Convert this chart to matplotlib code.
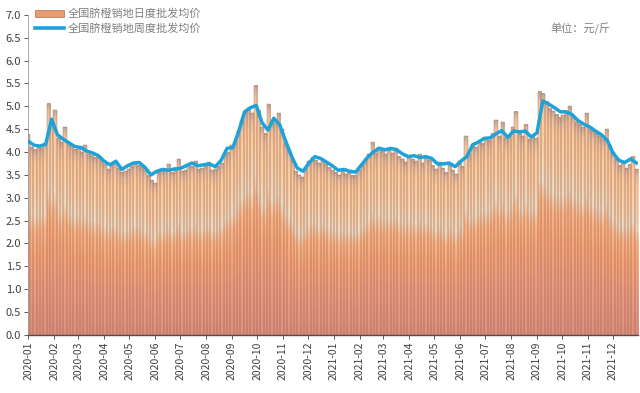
import numpy as np
import pandas as pd
import matplotlib
matplotlib.use("Agg")
import matplotlib.pyplot as plt
import matplotlib.dates as mdates
from matplotlib.colors import LinearSegmentedColormap
from matplotlib.patches import Patch
from matplotlib.lines import Line2D

plt.rcParams['font.family'] = ['Noto Sans CJK SC', 'DejaVu Sans']

# ---- data ----
daily_label = "全国脐橙销地日度批发均价"
weekly_label = "全国脐橙销地周度批发均价"
unit_text = "单位：元/斤"

# daily wholesale price (sampled every 4 days from 2020-01-01)
daily_values = [
    4.38, 4.10, 4.05, 4.12, 4.08, 4.20, 5.06, 4.62, 4.92, 4.30,
    4.22, 4.55, 4.20, 4.15, 4.05, 4.10, 4.00, 4.15, 3.95, 3.92,
    3.88, 3.92, 3.80, 3.72, 3.62, 3.70, 3.78, 3.64, 3.55, 3.58,
    3.62, 3.68, 3.75, 3.70, 3.66, 3.60, 3.48, 3.38, 3.32, 3.55,
    3.58, 3.62, 3.74, 3.55, 3.60, 3.85, 3.58, 3.60, 3.72, 3.68,
    3.80, 3.62, 3.65, 3.70, 3.78, 3.60, 3.62, 3.68, 3.75, 3.95,
    4.00, 4.15, 4.25, 4.48, 4.70, 4.90, 4.96, 4.85, 5.45, 4.92,
    4.55, 4.40, 5.05, 4.62, 4.70, 4.85, 4.50, 4.20, 4.05, 3.85,
    3.58, 3.50, 3.45, 3.65, 3.80, 3.88, 3.82, 3.75, 3.85, 3.72,
    3.66, 3.60, 3.55, 3.50, 3.58, 3.52, 3.55, 3.48, 3.50, 3.60,
    3.70, 3.82, 3.95, 4.22, 3.98, 4.10, 4.02, 3.95, 4.05, 3.98,
    4.08, 3.90, 3.85, 3.78, 3.92, 3.85, 3.80, 3.95, 3.75, 3.88,
    3.82, 3.70, 3.62, 3.78, 3.65, 3.55, 3.72, 3.60, 3.52, 3.80,
    3.68, 4.35, 3.95, 4.15, 4.10, 4.25, 4.18, 4.30, 4.25, 4.40,
    4.70, 4.35, 4.66, 4.30, 4.38, 4.55, 4.88, 4.40, 4.35, 4.60,
    4.28, 4.35, 4.30, 5.32, 5.28, 5.10, 4.95, 4.90, 4.82, 4.75,
    4.80, 4.85, 5.00, 4.78, 4.65, 4.60, 4.55, 4.85, 4.50, 4.45,
    4.40, 4.35, 4.28, 4.50, 4.15, 4.00, 3.85, 3.70, 3.78, 3.65,
    3.72, 3.90, 3.62,
]

# weekly wholesale price (weekly from 2020-01-01)
weekly_values = [
    4.24, 4.15, 4.13, 4.17, 4.72, 4.38, 4.28, 4.20, 4.12, 4.10,
    4.02, 3.98, 3.92, 3.80, 3.72, 3.80, 3.62, 3.70, 3.76, 3.77,
    3.66, 3.50, 3.58, 3.62, 3.60, 3.63, 3.64, 3.70, 3.76, 3.70,
    3.72, 3.74, 3.68, 3.82, 4.08, 4.10, 4.45, 4.88, 4.97, 5.02,
    4.64, 4.48, 4.74, 4.60, 4.25, 3.92, 3.65, 3.58, 3.76, 3.90,
    3.86, 3.78, 3.70, 3.60, 3.62, 3.58, 3.56, 3.72, 3.88, 4.00,
    4.08, 4.05, 4.08, 4.05, 3.96, 3.90, 3.92, 3.88, 3.90, 3.86,
    3.74, 3.74, 3.76, 3.68, 3.80, 3.90, 4.16, 4.22, 4.30, 4.31,
    4.40, 4.47, 4.32, 4.46, 4.44, 4.46, 4.33, 4.42, 5.12, 5.05,
    4.97, 4.88, 4.88, 4.82, 4.69, 4.61, 4.55, 4.46, 4.38, 4.26,
    3.98, 3.82, 3.77, 3.85, 3.76,
]

month_ticks = pd.date_range("2020-01-01", "2021-12-01", freq="MS")

# ---- figure ----
fig = plt.figure(figsize=(6.4, 3.93), dpi=100)
ax = fig.add_axes([0.044, 0.148, 0.953, 0.814])

daily_dates = pd.date_range("2020-01-01", periods=len(daily_values), freq="4D")
weekly_dates = pd.date_range("2020-01-01", periods=len(weekly_values), freq="7D")

cmap = LinearSegmentedColormap.from_list("bargrad", [
    (0.00, "#dc8f7c"),
    (0.22, "#e99b82"),
    (0.42, "#f6a677"),
    (0.55, "#f9b584"),
    (0.64, "#ecdac0"),
    (0.74, "#f6d2ab"),
    (0.90, "#fbcc9c"),
    (0.96, "#e8c0a0"),
    (1.00, "#c0a896"),
])
grad = np.linspace(0, 1, 256).reshape(-1, 1)

xnum = mdates.date2num(daily_dates)
bar_w = 4.0
bars = ax.bar(xnum, daily_values, width=bar_w, facecolor="none",
              edgecolor="#a8695a", linewidth=0.35, zorder=3, alpha=0.8)
for b in bars:
    x0 = b.get_x()
    h = b.get_height()
    ax.imshow(grad, extent=[x0, x0 + bar_w, 0, h], origin="lower",
              aspect="auto", cmap=cmap, interpolation="bilinear", zorder=2)

ax.plot(mdates.date2num(weekly_dates), weekly_values, color="#1ea3d9",
        linewidth=2.5, zorder=5, solid_joinstyle="round")

ax.set_xlim(mdates.date2num(pd.Timestamp("2020-01-01")),
            mdates.date2num(pd.Timestamp("2021-12-31")))
ax.set_ylim(0, 7.0)
ax.set_aspect("auto")

ax.set_yticks(np.arange(0, 7.01, 0.5))
ax.set_yticklabels([f"{v:.1f}" for v in np.arange(0, 7.01, 0.5)])
ax.set_xticks(mdates.date2num(month_ticks))
ax.set_xticklabels([d.strftime("%Y-%m") for d in month_ticks], rotation=90)
ax.tick_params(axis="y", labelsize=8, colors="#404040", length=3, width=0.6, pad=2)
ax.tick_params(axis="x", labelsize=7.5, colors="#404040", length=3, width=0.6, pad=2)

for s in ["top", "right"]:
    ax.spines[s].set_visible(False)
ax.spines["left"].set_color("#9a9a9a")
ax.spines["left"].set_linewidth(0.6)
ax.spines["bottom"].set_color("#5a4a44")
ax.spines["bottom"].set_linewidth(1.0)

handles = [Patch(facecolor="#e89a70", edgecolor="#b07050", linewidth=0.5),
           Line2D([0], [0], color="#1ea3d9", linewidth=2.6)]
leg = ax.legend(handles, [daily_label, weekly_label], loc="upper left",
                bbox_to_anchor=(0.0, 1.04), frameon=False, fontsize=8,
                handlelength=2.6, handleheight=0.5, labelspacing=0.35,
                handletextpad=0.4, borderaxespad=0.2)
for t in leg.get_texts():
    t.set_color("#808080")

ax.text(0.955, 0.955, unit_text, transform=ax.transAxes, ha="right", va="center",
        fontsize=8, color="#808080")

fig.savefig("out.png", dpi=100)
